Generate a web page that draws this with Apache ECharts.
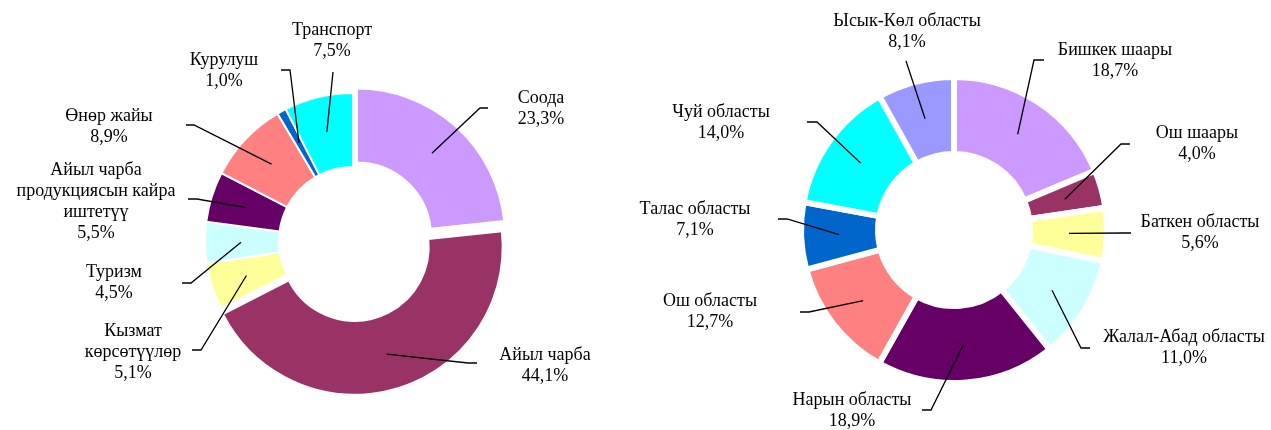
<!DOCTYPE html>
<html lang="ky">
<head>
  <meta charset="UTF-8">
  <title>Структура</title>
  <script src="https://cdnjs.cloudflare.com/ajax/libs/echarts/6.0.0/echarts.min.js"></script>
  <style>
    body { margin: 0; background: #fff; }
    #main { width: 1271px; height: 430px; }
  </style>
</head>
<body>
  <div id="main"></div>
<script>
  // left donut: by sector
  var sectorNames = ['Соода', 'Айыл чарба', 'Кызмат\nкөрсөтүүлөр', 'Туризм',
    'Айыл чарба\nпродукциясын кайра\nиштетүү', 'Өнөр жайы', 'Курулуш', 'Транспорт'];
  var sectorShares = [23.3, 44.1, 5.1, 4.5, 5.5, 8.9, 1.0, 7.5];
  var sectorColors = ['#CC99FF', '#993366', '#FFFF99', '#CCFFFF', '#660066', '#FF8080', '#0066CC', '#00FFFF'];
  var sectorExploded = [true, true, false, false, false, false, false, false];

  // right donut: by region
  var regionNames = ['Бишкек шаары', 'Ош шаары', 'Баткен областы', 'Жалал-Абад областы', 'Нарын областы',
    'Ош областы', 'Талас областы', 'Чуй областы', 'Ысык-Көл областы'];
  var regionShares = [18.7, 4.0, 5.6, 11.0, 18.9, 12.7, 7.1, 14.0, 8.1];
  var regionColors = ['#CC99FF', '#993366', '#FFFF99', '#CCFFFF', '#660066', '#FF8080', '#0066CC', '#00FFFF', '#9999FF'];

  // label placement: [text x, text y, elbow x, elbow y, line end x]
  var sectorLabelAt = [
    [541, 109, 480, 108, 488],
    [545, 366, 468, 363, 477],
    [133, 352, 201, 350, 192],
    [114, 283, 191, 283, 182],
    [96, 202, 197, 199, 188],
    [109, 127, 194, 125, 186],
    [224, 71, 290, 70, 281],
    [332, 41, 333, 72, 333]
  ];
  var regionLabelAt = [
    [1115, 61, 1034, 60, 1044],
    [1197, 144, 1121, 144, 1130],
    [1200, 233, 1125, 233, 1131],
    [1184, 348, 1081, 348, 1090],
    [852, 411, 931, 410, 922],
    [710, 312, 809, 312, 800],
    [695, 220, 787, 219, 778],
    [721, 123, 817, 122, 807],
    [907, 32, 906, 61, 906]
  ];

  var myChart = echarts.init(document.getElementById('main'));

  var EXPLODE = 6;

  function pct(v) {
    return v.toFixed(1).replace('.', ',') + '%';
  }

  // excel style leader: starts in the middle of the ring, bends, short flat end at the label
  function leader(cx, cy, rMid, values, exploded, place) {
    var total = values.reduce(function (a, b) { return a + b; }, 0);
    return function (params) {
      var i = params.dataIndex;
      var before = 0;
      for (var k = 0; k < i; k++) before += values[k];
      var a = (before + values[i] / 2) / total * Math.PI * 2;
      var r = rMid + (exploded && exploded[i] ? EXPLODE : 0);
      var p = place[i];
      return {
        x: p[0],
        y: p[1],
        align: 'center',
        verticalAlign: 'middle',
        labelLinePoints: [
          [cx + r * Math.sin(a), cy - r * Math.cos(a)],
          [p[2], p[3]],
          [p[4], p[3]]
        ]
      };
    };
  }

  var labelStyle = {
    show: true,
    position: 'outside',
    fontFamily: 'Liberation Serif',
    fontSize: 18,
    lineHeight: 21,
    color: '#000',
    align: 'center',
    formatter: function (params) {
      return params.name + '\n' + pct(params.value);
    }
  };
  var lineStyle = { show: true, lineStyle: { color: '#000', width: 1.3 } };

  function ring(center, radius, border, names, values, colors, exploded) {
    return {
      type: 'pie',
      z: 2,
      center: center,
      radius: radius,
      selectedMode: 'multiple',
      selectedOffset: EXPLODE,
      label: { show: false },
      labelLine: { show: false },
      itemStyle: { borderColor: '#fff', borderWidth: border },
      emphasis: { disabled: true },
      data: names.map(function (n, i) {
        return { name: n, value: values[i], selected: !!(exploded && exploded[i]), itemStyle: { color: colors[i] } };
      })
    };
  }

  // transparent copy on top, only to carry the labels and leader lines above the slices
  function labels(center, radius, rMid, names, values, exploded, place) {
    return {
      type: 'pie',
      z: 5,
      center: center,
      radius: radius,
      silent: true,
      avoidLabelOverlap: false,
      itemStyle: { color: 'rgba(0,0,0,0)', borderWidth: 0 },
      label: labelStyle,
      labelLine: lineStyle,
      labelLayout: leader(center[0], center[1], rMid, values, exploded, place),
      emphasis: { disabled: true },
      data: names.map(function (n, i) {
        return { name: n, value: values[i] };
      })
    };
  }

  var option = {
    animation: false,
    backgroundColor: '#fff',
    series: [
      ring([353, 241], [74, 148], 2, sectorNames, sectorShares, sectorColors, sectorExploded),
      ring([954, 230], [76, 153], 6, regionNames, regionShares, regionColors, null),
      labels([353, 241], [74, 148], 112, sectorNames, sectorShares, sectorExploded, sectorLabelAt),
      labels([954, 230], [76, 153], 115, regionNames, regionShares, null, regionLabelAt)
    ]
  };

  myChart.setOption(option);
</script>
</body>
</html>
